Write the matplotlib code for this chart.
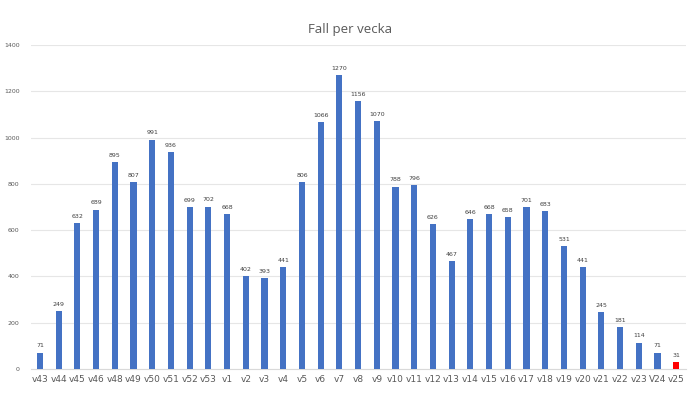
import matplotlib
matplotlib.use("Agg")
import matplotlib.pyplot as plt

weeks = ["v43","v44","v45","v46","v48","v49","v50","v51","v52","v53","v1","v2","v3","v4",
         "v5","v6","v7","v8","v9","v10","v11","v12","v13","v14","v15","v16","v17","v18",
         "v19","v20","v21","v22","v23","V24","v25"]
cases = [71,249,632,689,895,807,991,936,699,702,668,402,393,441,
         806,1066,1270,1156,1070,788,796,626,467,646,668,658,701,683,
         531,441,245,181,114,71,31]
colors = ["#4472C4"] * (len(cases) - 1) + ["#FF0000"]
yticks = [0, 200, 400, 600, 800, 1000, 1200, 1400]

fig = plt.figure(figsize=(7.0, 3.94), dpi=100)
ax = fig.add_axes([30.6/700, 25/394, 655/700, 324/394])
x = list(range(len(cases)))
ax.bar(x, cases, width=0.33, color=colors, zorder=3)
for xi, v in zip(x, cases):
    ax.text(xi, v + 18, str(v), ha="center", va="bottom", fontsize=4.5, color="#404040")
ax.set_xlim(-0.5, len(cases) - 0.5)
ax.set_ylim(0, 1400)
ax.set_yticks(yticks)
ax.set_yticklabels([str(t) for t in yticks], fontsize=4.5, color="#595959")
ax.set_xticks(x)
ax.set_xticklabels(weeks, fontsize=6.5, color="#595959")
ax.tick_params(axis="both", length=0, pad=4)
ax.tick_params(axis="y", pad=8)
ax.grid(axis="y", color="#E6E6E6", linewidth=0.8, zorder=0)
for s in ["top", "right", "left"]:
    ax.spines[s].set_visible(False)
ax.spines["bottom"].set_color("#D9D9D9")
fig.text(0.5, 1 - 30/394, "Fall per vecka", ha="center", va="center", fontsize=9.5,
         color="#595959", family=["Open Sans", "DejaVu Sans"])
fig.savefig("out.png", dpi=100)
